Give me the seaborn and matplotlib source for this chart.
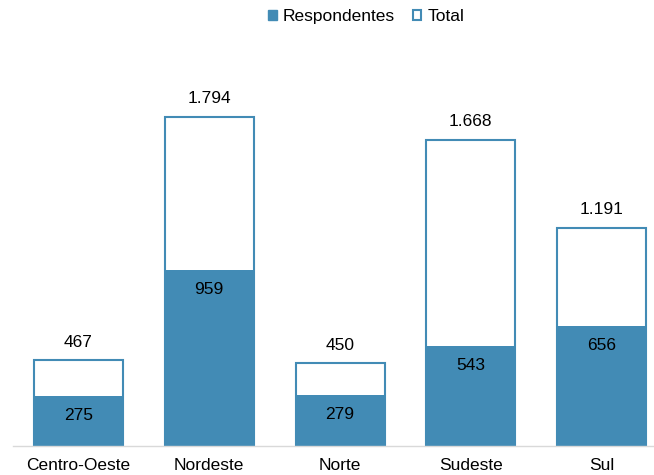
import pandas as pd
import matplotlib.pyplot as plt
import seaborn as sns
from matplotlib.patches import Patch

regioes = ['Centro-Oeste', 'Nordeste', 'Norte', 'Sudeste', 'Sul']
total = [467, 1794, 450, 1668, 1191]
respondentes = [275, 959, 279, 543, 656]

azul = '#428BB5'

sns.set_style('white')
plt.rcParams['font.family'] = ['Liberation Sans', 'DejaVu Sans']
plt.rcParams['text.color'] = 'black'
plt.rcParams['xtick.color'] = 'black'

df = pd.DataFrame({'regiao': regioes, 'total': total, 'resp': respondentes})

fig = plt.figure(figsize=(6.54, 4.75), dpi=100)
ax = fig.add_axes([13 / 654, 29 / 475, 641 / 654, 416 / 475])

sns.barplot(data=df, x='regiao', y='total', color='white', edgecolor=azul,
            linewidth=1.5, width=0.68, saturation=1, ax=ax)
sns.barplot(data=df, x='regiao', y='resp', color=azul, edgecolor=azul,
            linewidth=0, width=0.68, saturation=1, ax=ax)

def fmt(v):
    return f'{v:,}'.replace(',', '.')

for i, (t, r) in enumerate(zip(total, respondentes)):
    ax.annotate(fmt(t), (i, t), xytext=(0, 13), textcoords='offset points',
                ha='center', va='center', fontsize=12.5)
    ax.annotate(fmt(r), (i, r), xytext=(0, -14), textcoords='offset points',
                ha='center', va='center', fontsize=12.5)

ax.set_xlabel('')
ax.set_ylabel('')
ax.set_yticks([])
for s in ['left', 'right', 'top']:
    ax.spines[s].set_visible(False)
ax.spines['bottom'].set_color('#D9D9D9')
ax.spines['bottom'].set_linewidth(1)
ax.set_xticks([i - 0.5 for i in range(6)], minor=True)
ax.tick_params(axis='x', which='minor', length=5, color='#D9D9D9', width=1)
ax.tick_params(axis='x', which='major', length=0, labelsize=12.5, pad=9,
               labelcolor='black')
ax.set_xlim(-0.5, 4.4)
ax.set_ylim(0, 2268)

handles = [Patch(facecolor=azul, edgecolor=azul, label='Respondentes'),
           Patch(facecolor='white', edgecolor=azul, linewidth=1.5, label='Total')]
fig.legend(handles=handles, loc='center', bbox_to_anchor=(0.56, 0.965), ncol=2,
           frameon=False, fontsize=12.5, handlelength=0.5, handleheight=0.5,
           handletextpad=0.35, columnspacing=1.0)

fig.savefig('out.png', dpi=100)
